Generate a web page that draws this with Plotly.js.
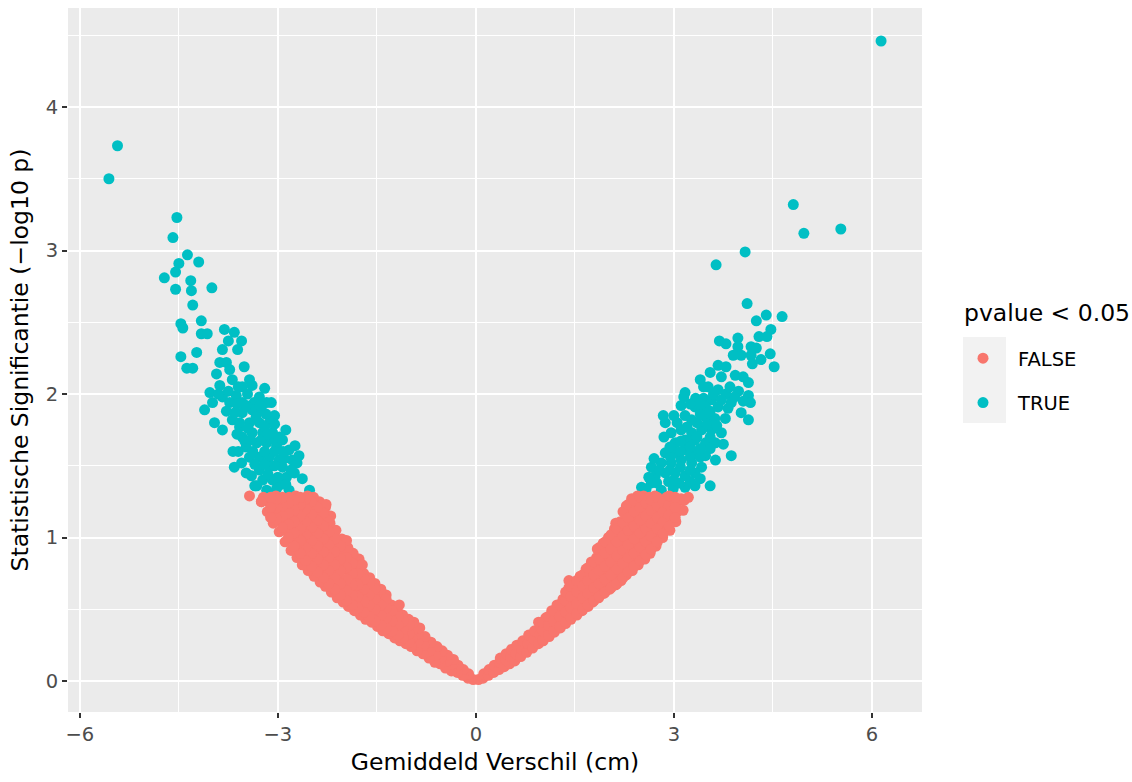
<!DOCTYPE html>
<html>
<head>
<meta charset="utf-8">
<script src="https://cdn.plot.ly/plotly-3.0.1.min.js"></script>
<style>html,body{margin:0;padding:0;background:#fff;}#chart{width:1132px;height:782px;}</style>
</head>
<body>
<div id="chart"></div>
<script>
// ---- Data ----
var xTickVals = [-6, -3, 0, 3, 6];
var yTickVals = [0, 1, 2, 3, 4];
var xMinorVals = [-4.5, -1.5, 1.5, 4.5];
var yMinorVals = [0.5, 1.5, 2.5, 3.5, 4.5];
var legendTitle = 'pvalue < 0.05';
var groupNames = ['FALSE', 'TRUE'];

// pvalue >= 0.05 (FALSE), left arm
var falseLeftX = [
-0.04,
-0.12,-0.11,
-0.20,-0.19,
-0.28,-0.27,
-0.37,-0.35,-0.34,
-0.46,-0.44,-0.43,
-0.54,-0.53,-0.51,
-0.62,-0.61,-0.59,
-0.71,-0.70,-0.68,
-0.80,-0.79,-0.77,
-0.89,-0.88,-0.87,-0.85,
-0.98,-0.97,-0.95,-0.94,
-1.06,-1.05,-1.04,-1.02,
-1.15,-1.14,-1.12,-1.11,
-1.23,-1.22,-1.21,-1.19,
-1.32,-1.31,-1.29,-1.28,
-1.41,-1.40,-1.39,-1.37,-1.36,
-1.49,-1.48,-1.47,-1.45,-1.44,
-1.58,-1.57,-1.56,-1.54,-1.53,
-1.67,-1.66,-1.64,-1.63,-1.61,
-1.75,-1.74,-1.73,-1.71,-1.70,
-1.84,-1.83,-1.82,-1.80,-1.79,-1.77,
-1.93,-1.92,-1.90,-1.89,-1.87,-1.86,
-2.01,-2.00,-1.99,-1.97,-1.96,-1.94,
-2.10,-2.09,-2.08,-2.06,-2.05,-2.03,
-2.19,-2.18,-2.16,-2.15,-2.13,-2.12,
-2.28,-2.27,-2.26,-2.24,-2.23,-2.21,-2.20,
-2.36,-2.35,-2.34,-2.32,-2.31,-2.29,-2.28,
-2.45,-2.44,-2.43,-2.41,-2.40,-2.38,-2.37,
-2.54,-2.53,-2.52,-2.50,-2.49,-2.47,-2.46,
-2.63,-2.62,-2.61,-2.59,-2.58,-2.56,-2.55,
-2.71,-2.70,-2.69,-2.67,-2.66,-2.64,
-2.80,-2.79,-2.78,-2.76,-2.75,-2.73,
-2.89,-2.88,-2.86,-2.85,-2.83,
-2.98,-2.97,-2.95,-2.94,
-3.07,-3.06,-3.04,-3.03,
-3.16,-3.14,
-3.25,-3.22,
-3.43,-3.25,-3.05,-2.63,-2.48,-2.12,-2.27,-1.96,-1.72,-1.16
];
var falseLeftY = [
0.01,
0.02,0.05,
0.04,0.08,
0.06,0.11,
0.07,0.12,0.15,
0.09,0.14,0.18,
0.12,0.16,0.21,
0.13,0.18,0.24,
0.16,0.21,0.27,
0.19,0.25,0.31,
0.21,0.27,0.33,0.37,
0.24,0.30,0.36,0.41,
0.26,0.32,0.38,0.43,
0.28,0.34,0.40,0.46,
0.30,0.36,0.43,0.49,
0.33,0.39,0.46,0.53,
0.35,0.42,0.49,0.56,0.60,
0.38,0.44,0.51,0.58,0.64,
0.41,0.47,0.54,0.61,0.68,
0.43,0.50,0.57,0.64,0.72,
0.46,0.53,0.60,0.67,0.75,
0.49,0.56,0.63,0.71,0.79,0.85,
0.52,0.59,0.67,0.75,0.83,0.89,
0.55,0.62,0.70,0.78,0.86,0.93,
0.58,0.66,0.74,0.82,0.90,0.99,
0.62,0.70,0.78,0.86,0.95,1.05,
0.66,0.74,0.82,0.91,1.00,1.10,1.15,
0.69,0.77,0.86,0.95,1.04,1.13,1.21,
0.73,0.81,0.90,0.99,1.08,1.17,1.25,
0.77,0.85,0.94,1.03,1.12,1.21,1.28,
0.81,0.89,0.98,1.07,1.16,1.24,1.29,
0.86,0.94,1.02,1.11,1.19,1.27,
0.91,0.99,1.07,1.15,1.23,1.29,
0.97,1.05,1.13,1.21,1.28,
1.04,1.12,1.19,1.26,
1.10,1.17,1.24,1.29,
1.18,1.25,
1.25,1.28,
1.29,1.25,1.12,0.93,0.83,0.63,1.23,0.98,0.81,0.53
];
// denser inner part of the left FALSE band
var falseLeftX2 = [
-1.01,-1.01,-1.01,
-1.10,-1.10,-1.10,
-1.18,-1.18,-1.18,
-1.27,-1.27,-1.27,
-1.36,-1.36,-1.36,-1.36,
-1.44,-1.44,-1.44,
-1.53,-1.53,-1.53,-1.53,
-1.62,-1.62,-1.62,-1.62,
-1.70,-1.70,-1.70,-1.70,
-1.79,-1.79,-1.79,-1.79,
-1.87,-1.87,-1.87,-1.87,-1.87,
-1.96,-1.96,-1.96,-1.96,-1.96,
-2.05,-2.05,-2.05,-2.05,-2.05,
-2.14,-2.14,-2.14,-2.14,-2.14,
-2.23,-2.23,-2.23,-2.23,-2.23,-2.23,
-2.31,-2.31,-2.31,-2.31,-2.31,-2.31,
-2.40,-2.40,-2.40,-2.40,-2.40,-2.40,
-2.49,-2.49,-2.49,-2.49,-2.49,-2.49,
-2.58,-2.58,-2.58,-2.58,-2.58,-2.58,
-2.66,-2.66,-2.66,-2.66,-2.66,-2.66,
-2.75,-2.75,-2.75,-2.75,-2.75,
-2.84,-2.84,-2.84,-2.84,
-2.93,-2.93,-2.93,-2.93,
-3.02,-3.02,-3.02,
-3.11,-3.11,-3.11
];
var falseLeftY2 = [
0.27,0.33,0.39,
0.30,0.36,0.42,
0.32,0.39,0.45,
0.35,0.42,0.49,
0.37,0.44,0.51,0.57,
0.39,0.46,0.53,
0.42,0.50,0.57,0.64,
0.45,0.53,0.60,0.68,
0.48,0.56,0.64,0.71,
0.51,0.59,0.67,0.75,
0.53,0.60,0.67,0.75,0.82,
0.56,0.63,0.71,0.79,0.86,
0.60,0.68,0.77,0.85,0.94,
0.64,0.72,0.81,0.90,0.99,
0.68,0.77,0.86,0.95,1.04,1.12,
0.72,0.81,0.90,0.99,1.08,1.17,
0.76,0.85,0.94,1.03,1.12,1.21,
0.80,0.89,0.98,1.07,1.16,1.25,
0.84,0.93,1.02,1.11,1.20,1.27,
0.89,0.98,1.06,1.15,1.23,1.28,
0.94,1.03,1.11,1.19,1.26,
1.00,1.09,1.17,1.24,
1.07,1.15,1.22,1.28,
1.13,1.21,1.27,
1.14,1.21,1.28
];

// pvalue >= 0.05 (FALSE), right arm
var falseRightX = [
0.04,
0.11,0.12,
0.19,0.20,
0.27,0.28,
0.35,0.36,0.37,
0.43,0.45,0.46,
0.51,0.53,0.54,
0.59,0.61,0.62,
0.68,0.70,0.71,
0.77,0.79,0.80,
0.86,0.88,0.89,
0.95,0.97,0.98,
1.02,1.04,1.05,1.06,
1.11,1.12,1.14,1.15,
1.19,1.21,1.22,1.23,
1.28,1.29,1.31,1.32,
1.36,1.37,1.39,1.40,1.41,
1.44,1.45,1.47,1.48,1.49,
1.53,1.54,1.56,1.57,1.58,
1.61,1.63,1.64,1.66,1.67,
1.70,1.71,1.73,1.74,1.75,
1.77,1.79,1.80,1.82,1.83,1.84,
1.86,1.87,1.89,1.90,1.92,1.93,
1.94,1.96,1.97,1.99,2.00,2.01,
2.03,2.05,2.06,2.08,2.09,2.10,
2.12,2.13,2.15,2.16,2.18,2.19,
2.20,2.21,2.23,2.24,2.26,2.27,2.28,
2.28,2.29,2.31,2.32,2.34,2.35,2.36,
2.37,2.38,2.40,2.41,2.43,2.44,2.45,
2.46,2.47,2.49,2.50,2.52,2.53,2.54,
2.56,2.58,2.59,2.61,2.62,2.63,
2.64,2.66,2.67,2.69,2.70,2.71,
2.73,2.75,2.76,2.78,2.79,
2.83,2.85,2.86,2.88,2.89,
2.94,2.95,2.97,2.98,
3.03,3.05,3.06,
3.14,3.16,
3.11,3.22,2.81,2.72,2.12,1.41,0.95
];
var falseRightY = [
0.01,
0.02,0.05,
0.04,0.08,
0.06,0.11,
0.08,0.13,0.16,
0.10,0.15,0.19,
0.12,0.17,0.22,
0.14,0.19,0.25,
0.17,0.22,0.28,
0.20,0.26,0.32,
0.23,0.29,0.35,
0.26,0.32,0.38,
0.28,0.34,0.40,0.44,
0.31,0.37,0.43,0.49,
0.34,0.40,0.46,0.53,
0.37,0.43,0.50,0.57,
0.40,0.46,0.53,0.60,0.65,
0.43,0.49,0.56,0.63,0.69,
0.46,0.52,0.59,0.66,0.73,
0.49,0.55,0.62,0.70,0.78,
0.52,0.58,0.66,0.74,0.83,
0.55,0.62,0.70,0.78,0.86,0.92,
0.58,0.65,0.73,0.81,0.89,0.96,
0.61,0.68,0.76,0.84,0.93,1.00,
0.64,0.71,0.79,0.88,0.97,1.06,
0.67,0.75,0.83,0.92,1.01,1.11,
0.70,0.78,0.87,0.96,1.05,1.15,1.22,
0.74,0.82,0.91,1.00,1.09,1.19,1.27,
0.77,0.85,0.94,1.03,1.13,1.22,1.29,
0.81,0.89,0.98,1.07,1.16,1.25,1.29,
0.85,0.93,1.02,1.11,1.20,1.28,
0.89,0.97,1.06,1.15,1.23,1.29,
0.94,1.02,1.10,1.18,1.26,
1.00,1.07,1.14,1.22,1.28,
1.05,1.12,1.19,1.26,
1.11,1.18,1.25,
1.19,1.26,
1.27,1.28,1.07,0.96,1.10,0.70,0.41
];
// denser inner part of the right FALSE band
var falseRightX2 = [
1.01,1.01,1.01,
1.10,1.10,1.10,
1.18,1.18,1.18,
1.27,1.27,1.27,
1.36,1.36,1.36,1.36,
1.44,1.44,1.44,1.44,
1.53,1.53,1.53,1.53,
1.62,1.62,1.62,1.62,
1.70,1.70,1.70,1.70,
1.79,1.79,1.79,1.79,
1.87,1.87,1.87,1.87,1.87,
1.96,1.96,1.96,1.96,1.96,
2.05,2.05,2.05,2.05,2.05,
2.14,2.14,2.14,2.14,2.14,
2.23,2.23,2.23,2.23,2.23,2.23,
2.31,2.31,2.31,2.31,2.31,2.31,
2.40,2.40,2.40,2.40,2.40,2.40,
2.49,2.49,2.49,2.49,2.49,2.49,
2.58,2.58,2.58,2.58,2.58,
2.66,2.66,2.66,2.66,2.66,
2.75,2.75,2.75,2.75,2.75,
2.84,2.84,2.84,2.84,
2.93,2.93,2.93,2.93,
3.02,3.02,3.02
];
var falseRightY2 = [
0.29,0.35,0.41,
0.32,0.39,0.45,
0.35,0.42,0.49,
0.38,0.45,0.53,
0.41,0.48,0.56,0.62,
0.44,0.51,0.59,0.66,
0.47,0.54,0.62,0.70,
0.50,0.58,0.66,0.74,
0.53,0.61,0.70,0.79,
0.56,0.65,0.74,0.83,
0.59,0.68,0.77,0.85,0.93,
0.62,0.71,0.80,0.89,0.97,
0.65,0.74,0.83,0.92,1.02,
0.68,0.78,0.87,0.97,1.06,
0.72,0.82,0.91,1.01,1.10,1.18,
0.76,0.86,0.95,1.05,1.14,1.23,
0.80,0.89,0.99,1.08,1.18,1.26,
0.84,0.93,1.03,1.12,1.21,1.28,
0.88,0.97,1.06,1.15,1.24,
0.92,1.01,1.10,1.19,1.26,
0.97,1.06,1.14,1.22,1.28,
1.03,1.11,1.18,1.25,
1.08,1.16,1.23,1.29,
1.14,1.21,1.28
];

// pvalue < 0.05 (TRUE), left arm
var trueLeftX = [
-5.56,-5.43,-4.53,-4.59,-4.37,-4.50,-4.20,-4.55,-4.72,-4.32,-4.55,-4.31,-4.00,-4.29,
-4.47,-4.44,-4.16,-4.16,-4.07,-3.81,-3.66,-3.75,-3.55,-3.84,-3.61,-4.23,-4.47,-3.88,
-3.78,-3.51,-4.38,-4.29,-3.93,-3.73,-3.88,-3.69,-3.54,-3.39,-3.20,-4.03,-3.84,-3.63,
-4.11,-3.99,-3.73,-3.54,-3.36,-3.17,-3.10,-3.96,-3.84,-3.69,-3.54,-3.39,-3.25,-3.58,
-3.43,-3.28,-3.13,-3.54,-3.39,-3.23,-3.08,-2.93,-3.48,-3.32,-3.17,-3.02,-2.83,-3.43,
-3.28,-3.13,-2.98,-2.78,-3.66,-3.48,-3.28,-3.13,-2.93,-2.71,-3.23,-3.08,-2.87,-2.63,
-3.17,-3.02,-2.83,-2.52,-3.43,-2.74,-2.68,-3.32,-2.95,-3.60,-3.05,-3.65,
-3.35,-3.40,-3.55,-3.35,-3.20,-3.05,-2.88,-2.75,-2.90,-3.05,-3.20,-3.38,-3.50,-3.25,
-3.10,-2.98,-3.62,-3.45,-3.20,-3.05,-3.33,-3.18,-3.48,-3.62,-3.28,-3.46,-3.78,-3.90,
-3.60,-3.75,
-3.00,-2.80,-3.15,-3.58,-3.42,-3.68,-2.92,-3.15,-2.88,-3.27
];
var trueLeftY = [
3.50,3.73,3.23,3.09,2.97,2.91,2.92,2.85,2.81,2.79,2.73,2.72,2.74,2.62,
2.49,2.46,2.51,2.42,2.42,2.45,2.43,2.37,2.37,2.31,2.31,2.29,2.26,2.22,
2.22,2.19,2.18,2.18,2.14,2.17,2.06,2.10,2.05,2.06,2.04,2.01,1.98,1.99,
1.89,1.94,1.94,1.94,1.94,1.94,1.94,1.80,1.75,1.82,1.87,1.89,1.89,1.77,
1.80,1.80,1.80,1.70,1.73,1.73,1.73,1.68,1.63,1.66,1.66,1.64,1.61,1.56,
1.56,1.56,1.54,1.54,1.49,1.45,1.47,1.49,1.49,1.52,1.40,1.40,1.42,1.41,
1.33,1.34,1.33,1.33,2.10,1.64,1.57,1.36,1.37,1.60,1.85,1.87,
1.36,1.43,1.52,1.51,1.51,1.50,1.37,1.45,1.55,1.60,1.60,1.60,1.67,1.68,
1.69,1.70,1.72,1.76,1.77,1.79,1.84,1.86,1.92,1.93,1.98,2.00,1.88,2.00,
2.05,2.02,
1.42,1.47,1.44,1.80,1.68,1.60,1.60,1.72,1.75,1.92
];

// pvalue < 0.05 (TRUE), right arm
var trueRightX = [
6.14,5.53,4.81,4.97,4.08,3.64,4.11,4.25,4.40,4.64,4.47,4.29,4.41,3.69,
3.79,3.97,3.97,4.17,4.25,3.90,4.02,4.17,4.46,4.32,4.19,4.52,3.67,3.79,
3.72,3.93,4.05,4.13,3.52,3.17,3.67,3.79,4.13,4.16,3.33,3.45,3.57,3.87,
3.11,3.32,3.48,3.67,4.02,4.13,2.84,2.87,3.17,3.27,3.48,3.62,3.78,2.96,
3.11,3.27,3.42,3.57,3.72,3.02,3.17,3.32,3.48,3.63,2.87,3.02,3.17,3.32,
3.48,3.63,3.87,2.66,2.81,2.96,3.11,3.27,3.42,2.72,2.87,3.02,3.17,3.32,
2.51,2.66,2.81,2.99,3.17,3.32,3.55,3.85,3.98,3.40,3.55,
2.58,2.74,2.92,3.08,3.25,3.40,2.78,2.94,3.10,3.25,2.95,3.10,3.25,3.40,
2.94,3.10,3.25,3.40,3.55,3.05,3.20,3.35,3.50,3.65,3.40,3.55,3.25,3.40,
3.60,3.72,3.82,3.92,4.05,
2.70,2.85,3.00,3.15,3.45,3.35,3.55,3.75,3.00,2.62
];
var trueRightY = [
4.46,3.15,3.32,3.12,2.99,2.90,2.63,2.51,2.55,2.54,2.45,2.40,2.40,2.37,
2.35,2.39,2.33,2.33,2.32,2.27,2.27,2.27,2.28,2.24,2.21,2.19,2.20,2.19,
2.12,2.13,2.12,2.08,2.05,2.01,2.03,2.00,1.99,1.94,1.97,1.97,1.96,1.94,
1.92,1.91,1.91,1.91,1.87,1.82,1.85,1.80,1.85,1.82,1.84,1.83,1.83,1.73,
1.75,1.73,1.75,1.75,1.73,1.66,1.68,1.68,1.66,1.66,1.59,1.59,1.61,1.59,
1.57,1.54,1.57,1.49,1.52,1.52,1.54,1.52,1.49,1.43,1.45,1.45,1.43,1.45,
1.35,1.38,1.33,1.34,1.35,1.36,1.36,2.05,2.02,2.10,2.15,
1.34,1.38,1.39,1.38,1.39,1.41,1.47,1.47,1.49,1.47,1.56,1.60,1.56,1.56,
1.63,1.67,1.63,1.62,1.62,1.80,1.77,1.80,1.79,1.78,1.86,1.88,1.93,1.93,
2.00,1.96,1.90,1.98,1.95,
1.55,1.70,1.85,1.98,2.05,1.70,1.70,1.65,1.40,1.42
];

// ---- Build traces ----
var colFalse = '#F8766D', colTrue = '#00BFC4';
var markerSize = 11;

var traceTrue = {
  type: 'scatter', mode: 'markers', name: groupNames[1], legendgroup: 'g2', legendrank: 2,
  x: trueLeftX.concat(trueRightX), y: trueLeftY.concat(trueRightY),
  marker: {color: colTrue, size: markerSize, line: {width: 0}},
  hoverinfo: 'x+y'
};
var traceFalse = {
  type: 'scatter', mode: 'markers', name: groupNames[0], legendgroup: 'g1', legendrank: 1,
  x: falseLeftX.concat(falseLeftX2, falseRightX, falseRightX2),
  y: falseLeftY.concat(falseLeftY2, falseRightY, falseRightY2),
  marker: {color: colFalse, size: markerSize, line: {width: 0}},
  hoverinfo: 'x+y'
};

var tickFont = {family: 'DejaVu Sans', size: 19.5, color: '#4D4D4D'};
var titleFont = {family: 'DejaVu Sans', size: 23.5, color: '#000000'};

var layout = {
  width: 1132, height: 782,
  margin: {l: 68, r: 210, t: 8, b: 70, pad: 0},
  paper_bgcolor: '#FFFFFF',
  plot_bgcolor: '#EBEBEB',
  font: {family: 'DejaVu Sans', color: '#000000'},
  showlegend: true,
  xaxis: {
    range: [-6.18, 6.76],
    tickmode: 'array', tickvals: xTickVals,
    ticks: 'outside', ticklen: 5, tickwidth: 2, tickcolor: '#333333',
    tickfont: tickFont,
    showgrid: true, gridcolor: '#FFFFFF', gridwidth: 2,
    zeroline: false, showline: false,
    minor: {tickmode: 'array', tickvals: xMinorVals, showgrid: true, gridcolor: '#FFFFFF', gridwidth: 1, ticks: ''},
    title: {text: 'Gemiddeld Verschil (cm)', font: titleFont, standoff: 8}
  },
  yaxis: {
    range: [-0.216, 4.69],
    tickmode: 'array', tickvals: yTickVals,
    ticks: 'outside', ticklen: 5, tickwidth: 2, tickcolor: '#333333',
    tickfont: tickFont,
    showgrid: true, gridcolor: '#FFFFFF', gridwidth: 2,
    zeroline: false, showline: false,
    minor: {tickmode: 'array', tickvals: yMinorVals, showgrid: true, gridcolor: '#FFFFFF', gridwidth: 1, ticks: ''},
    title: {text: 'Statistische Significantie (\u2212log10 p)', font: titleFont, standoff: 10}
  },
  legend: {
    xref: 'container', yref: 'container',
    x: 948 / 1132, xanchor: 'left', y: 1 - 339 / 782, yanchor: 'top',
    bgcolor: 'rgba(0,0,0,0)', borderwidth: 0,
    traceorder: 'grouped', tracegroupgap: 16, itemwidth: 60,
    font: {family: 'DejaVu Sans', size: 19.5, color: '#000000'},
    itemsizing: 'trace'
  },
  annotations: [{
    xref: 'paper', yref: 'paper', x: (962 - 68) / 854, y: (712 - 313) / 704,
    xanchor: 'left', yanchor: 'middle', showarrow: false,
    text: legendTitle, font: titleFont
  }],
  shapes: [{
    type: 'rect', xref: 'paper', yref: 'paper', layer: 'above',
    x0: (963 - 68) / 854, x1: (1006 - 68) / 854, y0: (712 - 423) / 704, y1: (712 - 337) / 704,
    fillcolor: '#F2F2F2', line: {width: 0}
  }]
};

Plotly.newPlot('chart', [traceTrue, traceFalse], layout, {displayModeBar: false, staticPlot: true});
</script>
</body>
</html>
